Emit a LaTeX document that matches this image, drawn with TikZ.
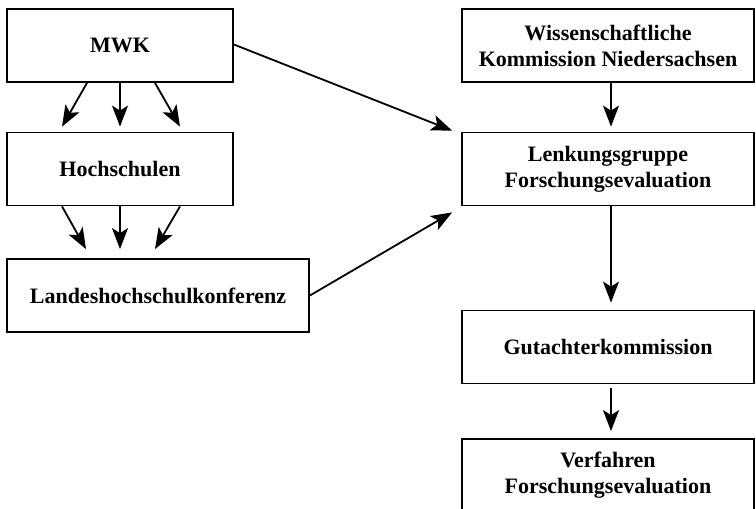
\documentclass[tikz,border=0pt]{standalone}
\usepackage{fontspec}
\setmainfont{Liberation Serif}
\usetikzlibrary{arrows.meta,calc}
\begin{document}
\begin{tikzpicture}[x=1pt,y=-1pt,
  box/.style={draw,line width=1.8pt,rectangle,minimum height=73pt,align=center,
    font=\fontsize{22}{26}\selectfont\bfseries,inner sep=0pt},
  arr/.style={line width=1.8pt,-{Stealth[length=21pt,width=16pt,inset=5pt]}}]
\useasboundingbox (0,0) rectangle (756,509);
\node[box,minimum width=226pt] (mwk) at (120,45.5) {MWK};
\node[box,minimum width=226pt] (hoch) at (120,169) {Hochschulen};
\node[box,minimum width=302pt] (lhk) at (158,295.5) {Landeshochschulkonferenz};
\node[box,minimum width=292pt] (wkn) at (608,45.5) {Wissenschaftliche\\Kommission Niedersachsen};
\node[box,minimum width=292pt] (lenk) at (608,169) {Lenkungsgruppe\\Forschungsevaluation};
\node[box,minimum width=292pt] (gut) at (608,347) {Gutachterkommission};
\node[box,minimum width=292pt] (verf) at (608,475.5) {Verfahren\\Forschungsevaluation};
% MWK -> Hochschulen
\draw[arr] ($(mwk.south)+(-33,0)$) -- ($(hoch.north)+(-58,-5)$);
\draw[arr] ($(mwk.south)+(0,0)$) -- ($(hoch.north)+(0,-5)$);
\draw[arr] ($(mwk.south)+(35,0)$) -- ($(hoch.north)+(60,-5)$);
% Hochschulen -> LHK
\draw[arr] ($(hoch.south)+(-58,0)$) -- ($(lhk.north)+(-72,-9)$);
\draw[arr] ($(hoch.south)+(0,0)$) -- ($(lhk.north)+(-38,-9)$);
\draw[arr] ($(hoch.south)+(60,0)$) -- ($(lhk.north)+(-3,-9)$);
% to Lenkungsgruppe
\draw[arr] ($(mwk.east)+(0,-1)$) -- ($(lenk.north west)+(-9,-1)$);
\draw[arr] (lhk.east) -- ($(lenk.south west)+(-9,6)$);
% right column
\draw[arr] ($(wkn.south)+(3,0)$) -- ($(lenk.north)+(3,-5)$);
\draw[arr] ($(lenk.south)+(3,0)$) -- ($(gut.north)+(3,-7)$);
\draw[arr] ($(gut.south)+(3,4)$) -- ($(verf.north)+(3,-7)$);
\end{tikzpicture}
\end{document}
